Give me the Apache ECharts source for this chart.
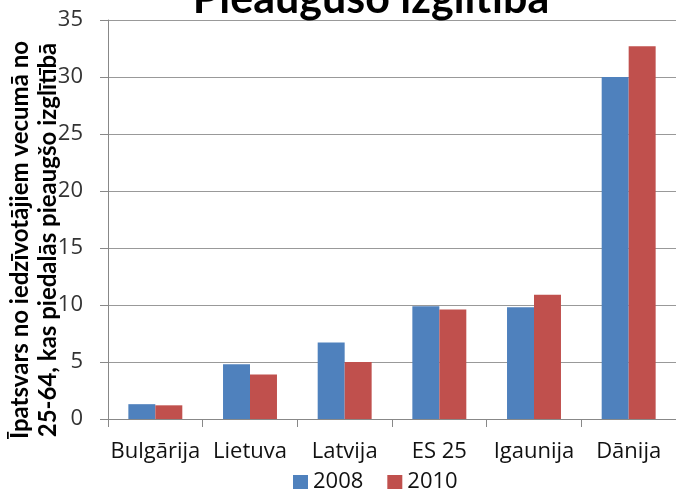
<!DOCTYPE html>
<html>
<head>
<meta charset="utf-8">
<script src="https://cdn.jsdelivr.net/npm/echarts@6/dist/echarts.min.js"></script>
<style>html,body{margin:0;padding:0;background:#fff}#c{width:676px;height:491px}</style>
</head>
<body>
<div id="c"></div>
<script>
var categories = ['Bulgārija', 'Lietuva', 'Latvija', 'ES 25', 'Igaunija', 'Dānija'];
var series2008 = [1.3, 4.8, 6.7, 9.9, 9.8, 30.0];
var series2010 = [1.2, 3.9, 5.0, 9.6, 10.9, 32.7];
var seriesNames = ['2008', '2010'];
var yTicks = {min: 0, max: 35, interval: 5};
var titleText = 'Pieaugušo izglītība';
var yName = 'Īpatsvars no iedzīvotājiem vecumā no\n25-64, kas piedalās pieaugšo izglītībā';

var BOLD = 'Lato';
var REG = 'Open Sans';
var chart = echarts.init(document.getElementById('c'), null, {renderer: 'canvas'});
chart.setOption({
  animation: false,
  color: ['#4f81bd', '#c0504d'],
  title: {
    text: titleText,
    left: 366,
    textAlign: 'center',
    top: -27,
    textStyle: {fontFamily: BOLD, fontSize: 43, fontWeight: 'bold', color: '#000'}
  },
  grid: {left: 108, top: 20, width: 570, height: 399, containLabel: false},
  legend: {
    left: 293,
    top: 471,
    padding: 0,
    itemWidth: 15,
    itemHeight: 14,
    itemGap: 24,
    icon: 'rect',
    textStyle: {fontFamily: REG, fontSize: 22, color: '#111'},
    data: seriesNames
  },
  xAxis: {
    type: 'category',
    data: categories,
    axisLine: {lineStyle: {color: '#888', width: 1}},
    axisTick: {show: true, length: 8, lineStyle: {color: '#888'}},
    axisLabel: {fontFamily: REG, fontSize: 22, color: '#111', margin: 22, interval: 0}
  },
  yAxis: {
    type: 'value',
    min: yTicks.min,
    max: yTicks.max,
    interval: yTicks.interval,
    axisLine: {show: true, lineStyle: {color: '#888', width: 1}},
    axisTick: {show: true, length: 8, lineStyle: {color: '#888'}},
    axisLabel: {fontFamily: REG, fontSize: 22, color: '#333', margin: 25},
    splitLine: {lineStyle: {color: '#999', width: 1}}
  },
  graphic: [{
    type: 'text',
    x: 34,
    y: 240,
    rotation: Math.PI / 2,
    style: {
      text: yName,
      font: 'bold 24px ' + BOLD,
      fill: '#000',
      textAlign: 'center',
      textVerticalAlign: 'middle',
      lineHeight: 28
    }
  }],
  series: [
    {name: seriesNames[0], type: 'bar', data: series2008, barGap: '0%', barCategoryGap: '43%',
     itemStyle: {color: '#4f81bd'}},
    {name: seriesNames[1], type: 'bar', data: series2010, barGap: '0%', barCategoryGap: '43%',
     itemStyle: {color: '#c0504d'}}
  ]
});
</script>
</body>
</html>
